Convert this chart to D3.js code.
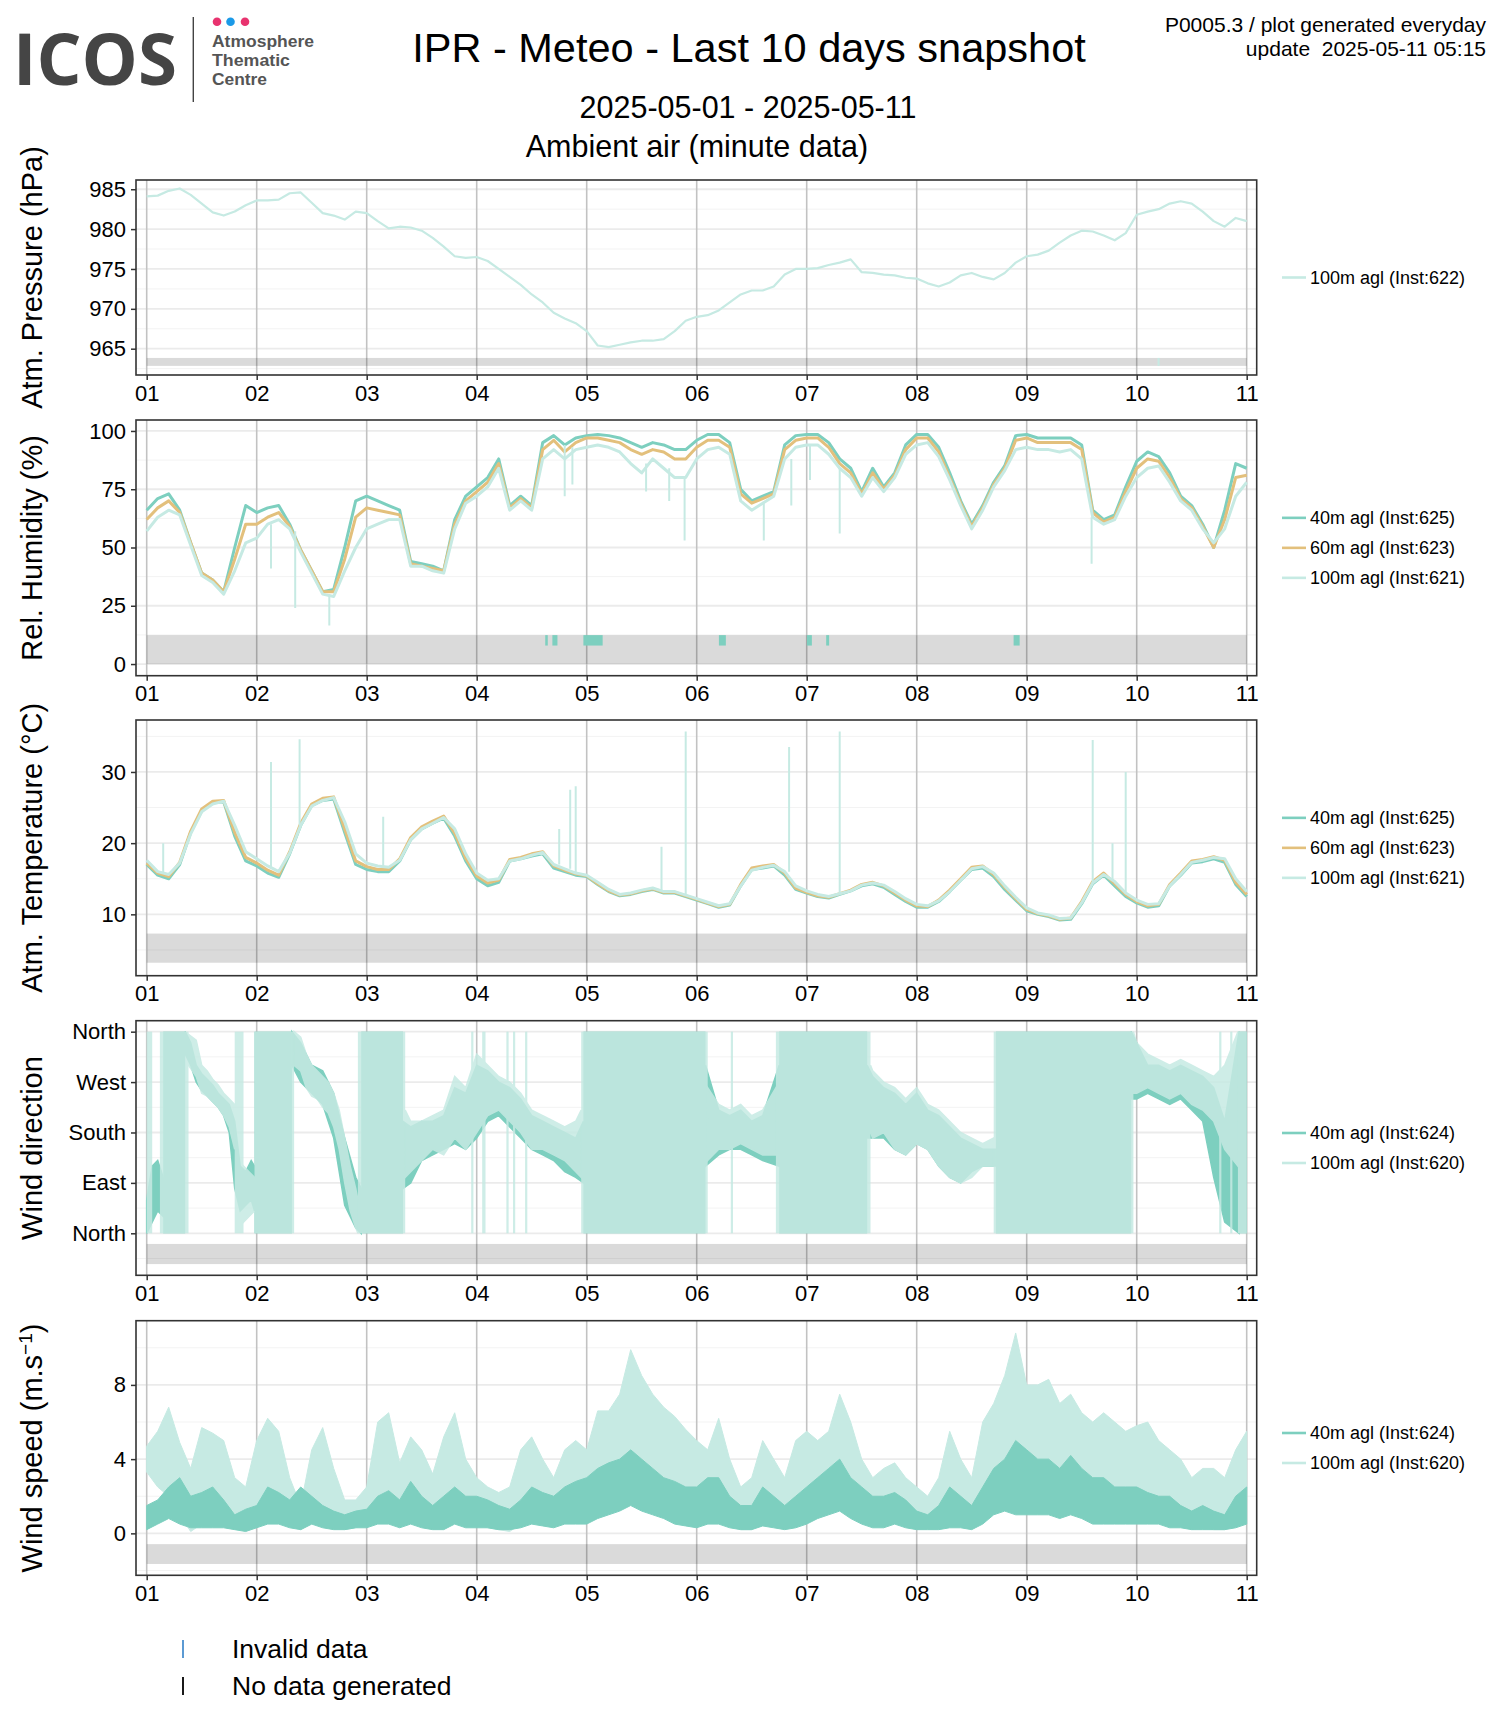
<!DOCTYPE html>
<html>
<head>
<meta charset="utf-8">
<script src="https://cdn.jsdelivr.net/npm/d3@7"></script>
<style>
  body { margin: 0; background: #fff; }
  text { font-family: "Liberation Sans", Arial, sans-serif; }
</style>
</head>
<body>
<div id="chart"></div>
<script>
var days = d3.range(0, 101).map(function(i) { return 1 + i / 10; });

var pressure100 = [984.1,984.2,984.8,985.1,984.3,983.2,982.1,981.7,982.2,983.0,
  983.6,983.6,983.7,984.5,984.6,983.3,982.0,981.7,981.2,982.2,
  982.0,981.0,980.1,980.3,980.2,979.8,978.9,977.8,976.6,976.4,
  976.5,976.0,975.0,974.0,973.0,971.8,970.8,969.5,968.8,968.2,
  967.2,965.4,965.2,965.5,965.8,966.0,966.0,966.2,967.2,968.5,
  969.0,969.2,969.8,970.8,971.8,972.3,972.3,972.8,974.3,975.0,
  975.0,975.1,975.5,975.8,976.2,974.6,974.5,974.3,974.2,973.9,
  973.8,973.2,972.8,973.3,974.2,974.5,974.0,973.7,974.5,975.8,
  976.6,976.8,977.3,978.3,979.2,979.8,979.7,979.2,978.6,979.5,
  981.8,982.2,982.5,983.2,983.5,983.2,982.2,981.0,980.3,981.4,
  981.0];

var rh40 = [66,71,73,66,52,39,36,31,50,68,
  65,67,68,60,49,40,31,32,50,70,
  72,70,68,66,44,43,42,40,62,72,
  76,80,88,68,72,68,95,98,94,97,
  98,98.5,98,97,95,93,95,94,92,92,
  96,98.5,98.5,95,75,70,72,74,94,98,
  98.5,98.5,95,88,84,74,84,76,82,94,
  98.5,98.5,93,82,70,60,68,78,85,98,
  98.5,97,97,97,97,94,66,62,64,76,
  87,91,89,82,72,68,60,50,66,86,
  84];
var rh60 = [62,67,70,65,52,39,36,31,45,60,
  60,63,65,59,49,40,31,31,45,63,
  67,66,65,64,43,42,41,40,60,70,
  74,78,86,67,71,67,92,96,91,95,
  97,97,96,95,92,90,92,91,88,88,
  93,96,96,93,73,69,71,73,92,96,
  97,97,93,86,82,73,82,75,81,92,
  97,97,91,80,69,59,67,77,84,96,
  97,95,95,95,95,92,65,61,63,74,
  84,88,87,80,71,67,59,50,62,80,
  81];
var rh100 = [57,63,66,64,51,38,35,30,40,52,
  54,60,62,58,48,39,30,29,40,50,
  58,60,62,62,42,42,40,39,58,69,
  72,76,84,66,70,66,88,92,88,92,
  93,94,93,91,86,82,88,84,80,80,
  88,92,93,90,70,66,69,72,88,93,
  94,94,90,84,80,72,80,74,80,90,
  94,95,89,79,68,58,66,76,83,92,
  93,92,92,91,92,88,63,60,62,72,
  80,84,85,78,70,66,58,52,58,72,
  78];

var temp40 = [17.0,15.5,15.0,17.0,21.5,24.5,25.7,25.8,21.0,17.5,
  16.8,15.8,15.2,18.5,22.5,25.3,26.0,26.2,21.5,17.0,
  16.3,16.0,16.0,17.5,20.5,22.0,22.8,23.5,21.0,17.5,
  15.0,14.0,14.5,17.5,17.8,18.2,18.5,16.5,16.0,15.5,
  15.3,14.2,13.2,12.6,12.8,13.2,13.5,13.0,13.0,12.5,
  12.0,11.5,11.0,11.3,14.0,16.3,16.5,16.8,15.5,13.5,
  13.0,12.5,12.3,12.8,13.3,14.0,14.3,13.8,12.8,11.8,
  11.0,11.0,11.8,13.2,14.8,16.3,16.5,15.3,13.5,12.0,
  10.5,10.0,9.7,9.2,9.3,11.5,14.3,15.5,14.0,12.5,
  11.6,11.0,11.2,14.0,15.5,17.2,17.4,17.8,17.3,14.2,
  12.5];
var temp60 = [17.2,15.8,15.3,17.3,21.7,24.8,25.9,26.0,21.5,18.0,
  17.2,16.2,15.5,18.8,22.8,25.5,26.3,26.5,22.0,17.5,
  16.7,16.3,16.3,17.8,20.8,22.3,23.1,23.8,21.4,17.9,
  15.4,14.4,14.8,17.7,18.0,18.5,18.8,16.8,16.2,15.7,
  15.4,14.3,13.3,12.7,12.9,13.3,13.6,13.1,13.1,12.6,
  12.1,11.6,11.1,11.4,14.2,16.5,16.8,17.0,15.8,13.7,
  13.1,12.6,12.4,12.9,13.4,14.2,14.5,14.0,13.0,12.0,
  11.2,11.1,12.0,13.4,15.0,16.6,16.8,15.6,13.8,12.2,
  10.7,10.1,9.8,9.3,9.5,11.8,14.6,15.8,14.3,12.8,
  11.8,11.2,11.4,14.2,15.8,17.5,17.7,18.1,17.6,14.5,
  12.8];
var temp100 = [17.6,16.0,15.6,17.2,21.3,24.4,25.5,25.9,22.5,18.8,
  17.8,16.8,16.0,18.6,22.5,25.2,26.0,26.4,23.0,18.5,
  17.2,16.8,16.6,17.6,20.5,22.0,22.8,23.6,22.0,18.5,
  15.8,14.8,15.0,17.5,17.8,18.3,18.7,17.0,16.4,15.8,
  15.5,14.5,13.5,12.8,13.0,13.4,13.7,13.2,13.2,12.7,
  12.2,11.7,11.2,11.5,14.0,16.2,16.6,16.9,16.0,14.0,
  13.3,12.8,12.5,12.9,13.3,14.1,14.4,14.1,13.2,12.2,
  11.4,11.2,11.9,13.2,14.8,16.4,16.7,15.8,14.0,12.4,
  10.9,10.2,9.9,9.4,9.5,11.6,14.4,15.6,14.6,13.0,
  12.0,11.4,11.5,14.0,15.6,17.3,17.6,18.0,17.8,15.0,
  13.2];

// wind direction, 40m: periods where the trace wraps North/North (day start, end)
var wd40FillStart = [1.15, 1.98, 2.95, 4.97, 6.75, 8.72, 10.93];
var wd40FillEnd   = [1.35, 2.32, 3.33, 6.08, 7.55, 9.95, 11.0];
// trace between them: day, low and high edge (degrees); null breaks the trace
var wd40Day = [1.0,1.05,1.1,1.15, null,
  1.35,1.4,1.45,1.5,1.55,1.6,1.65,1.7,1.75,1.8,1.85,1.9,1.95,1.98, null,
  2.32,2.4,2.5,2.6,2.7,2.8,2.9,2.95, null,
  3.33,3.4,3.5,3.6,3.7,3.8,3.9,4.0,4.1,4.2,4.3,4.4,4.5,4.6,4.7,4.8,4.9,4.97, null,
  6.08,6.2,6.3,6.4,6.5,6.6,6.75, null,
  7.55,7.6,7.7,7.8,7.9,8.0,8.1,8.2,8.3,8.4,8.5,8.6,8.72, null,
  9.95,10.0,10.1,10.2,10.3,10.4,10.5,10.6,10.7,10.8,10.93];
var wd40Lo = [0,20,40,30, null,
  320,300,270,255,245,235,225,210,180,80,40,50,60,40, null,
  300,270,250,230,170,50,10,0, null,
  80,90,130,140,150,160,150,170,200,210,190,170,150,140,130,110,100,90, null,
  120,140,150,150,140,130,120, null,
  170,170,170,150,140,160,150,120,100,90,110,120,120, null,
  240,240,250,240,230,240,220,200,100,20,0];
var wd40Hi = [60,120,130,100, null,
  360,340,300,285,275,265,250,240,230,200,120,110,130,120, null,
  360,340,300,290,250,170,100,80, null,
  200,190,200,200,210,260,250,300,290,270,260,240,210,200,190,180,170,200, null,
  300,220,210,220,200,210,300, null,
  300,280,260,250,230,250,220,210,190,170,160,150,150, null,
  360,340,300,300,290,300,290,280,260,200,360];

// wind direction, 100m
var wd100FillStart = [1.0, 1.12, 1.80, 1.98, 2.92, 3.95, 4.05, 4.27, 4.33, 4.44, 4.95, 6.31, 6.72, 8.70, 10.75, 10.85, 10.92];
var wd100FillEnd   = [1.05, 1.38, 1.88, 2.34, 3.35, 3.97, 4.08, 4.29, 4.35, 4.46, 6.10, 6.33, 7.58, 9.97, 10.77, 10.87, 11.0];
var wd100Day = [1.38,1.45,1.5,1.55,1.6,1.65,1.7,1.75,1.8, null,
  1.88,1.93,1.98, null,
  2.34,2.4,2.45,2.5,2.55,2.6,2.65,2.7,2.75,2.8,2.85,2.9,2.92, null,
  3.35,3.4,3.5,3.6,3.7,3.8,3.9,4.0,4.1,4.2,4.3,4.4,4.5,4.6,4.7,4.8,4.9,4.95, null,
  6.1,6.2,6.3,6.4,6.5,6.6,6.72, null,
  7.58,7.6,7.7,7.8,7.9,8.0,8.1,8.2,8.3,8.4,8.5,8.6,8.7, null,
  9.97,10.0,10.1,10.2,10.3,10.4,10.5,10.6,10.7,10.8,10.92];
var wd100Lo = [300,280,250,245,235,225,210,190,150, null,
  20,30,40, null,
  300,290,260,245,240,225,215,190,150,90,40,10,0, null,
  100,110,130,150,140,170,150,180,210,220,200,180,150,150,140,130,110,100, null,
  130,150,150,160,150,140,140, null,
  180,170,180,150,140,160,150,120,100,90,100,120,120, null,
  250,250,260,250,240,250,230,220,200,150,120];
var wd100Hi = [355,345,300,290,275,265,250,240,230, null,
  120,110,100, null,
  360,350,320,300,290,280,270,250,220,170,120,80,60, null,
  220,200,200,210,220,280,260,320,300,280,270,250,220,210,200,190,200,220, null,
  260,230,220,230,210,220,260, null,
  300,290,270,260,240,260,230,220,200,180,170,160,170, null,
  360,340,320,310,300,310,300,290,280,300,360];

// wind speed: low / high envelope of the minute trace (m/s)
var ws40Lo = [0.2,0.5,0.8,0.5,0.3,0.3,0.3,0.3,0.2,0.1,
  0.3,0.5,0.5,0.3,0.2,0.5,0.3,0.2,0.2,0.3,
  0.3,0.5,0.5,0.3,0.5,0.3,0.2,0.2,0.5,0.3,
  0.3,0.3,0.2,0.2,0.3,0.5,0.4,0.3,0.5,0.5,
  0.5,0.8,1.0,1.2,1.5,1.2,1.0,0.8,0.5,0.4,
  0.3,0.5,0.5,0.3,0.2,0.2,0.4,0.3,0.2,0.3,
  0.5,0.8,1.0,1.2,0.8,0.5,0.3,0.3,0.5,0.3,
  0.2,0.2,0.2,0.3,0.3,0.2,0.5,1.0,1.2,1.0,
  1.0,1.0,1.0,0.8,1.0,0.8,0.5,0.5,0.5,0.5,
  0.5,0.5,0.5,0.3,0.3,0.2,0.2,0.2,0.2,0.3,
  0.5];
var ws40Hi = [1.5,1.8,2.5,3.0,2.0,2.2,2.5,1.8,1.0,1.3,
  1.5,2.5,2.2,1.8,2.5,2.0,1.5,1.2,1.0,1.2,
  1.3,2.0,2.3,1.8,2.8,2.0,1.5,2.0,2.5,2.0,
  2.0,1.8,1.5,1.3,1.8,2.5,2.2,2.0,2.5,2.8,
  3.0,3.5,3.8,4.0,4.5,4.0,3.5,3.0,2.8,2.5,
  2.5,3.0,3.0,2.0,1.5,1.5,2.5,2.0,1.5,2.0,
  2.5,3.0,3.5,4.0,3.0,2.5,2.0,2.0,2.2,1.8,
  1.2,1.0,1.5,2.5,2.0,1.5,2.5,3.5,4.0,5.0,
  4.5,4.0,4.0,3.5,4.2,3.5,3.0,3.0,2.5,2.5,
  2.5,2.2,2.0,2.0,1.5,1.2,1.5,1.2,1.0,2.0,
  2.5];
var ws100Lo = [3.3,2.5,2.0,1.0,0.1,0.5,1.5,1.0,0.2,0.3,
  1.5,2.5,2.0,1.0,0.2,0.5,1.5,0.5,0.2,0.3,
  0.5,1.0,1.5,0.5,1.0,0.8,0.5,0.8,1.0,0.5,
  0.5,0.3,0.2,0.1,0.5,1.0,1.0,0.8,1.0,1.2,
  1.5,1.8,2.0,2.2,2.5,2.2,1.8,1.5,1.2,1.0,
  0.8,0.5,1.0,0.5,0.2,0.2,1.0,0.8,0.5,1.0,
  1.5,1.5,2.0,2.5,2.0,1.0,0.5,0.8,1.0,0.5,
  0.2,0.3,0.5,1.5,1.0,0.5,2.5,3.0,3.5,4.0,
  3.5,3.5,3.0,3.0,3.2,3.0,2.5,2.5,2.0,2.0,
  2.0,2.0,1.5,1.0,0.5,0.2,0.3,0.2,0.2,0.5,
  2.0];
var ws100Hi = [4.7,5.5,6.8,4.9,3.5,5.7,5.4,5.0,3.0,2.5,
  5.0,6.2,5.5,3.0,1.5,4.5,5.7,3.5,1.8,1.8,
  2.5,6.0,6.5,3.8,5.2,4.5,3.2,5.2,6.5,4.0,
  3.0,2.5,2.2,2.5,4.5,5.2,4.0,3.0,4.5,5.0,
  4.5,6.6,6.6,7.5,9.9,8.5,7.5,6.8,6.3,5.6,
  5.0,4.5,6.2,4.0,2.5,3.0,5.0,4.0,3.0,5.0,
  5.5,5.0,5.5,7.5,6.0,4.0,3.0,3.5,3.8,3.0,
  2.5,2.0,3.0,5.5,4.0,3.0,6.0,7.0,8.5,10.8,
  8.0,8.0,8.3,7.0,7.5,6.5,6.0,6.5,6.0,5.5,
  5.8,6.0,5.0,4.5,4.0,3.0,3.5,3.5,3.0,4.5,
  5.5];

// isolated spikes of the minute traces: day, from, to
var rhSpikeDay = [2.13,2.35,2.66,4.80,4.87,5.54,5.75,5.89,6.61,6.86,7.03,7.30,9.59];
var rhSpikeFrom = [60,57,30,94,93,86,84,80,69,88,94,84,63];
var rhSpikeTo = [41,24,16.5,72,77,74,70,53,53,68,79,56,43];
var tempSpikeDay = [1.15,2.13,2.39,3.15,4.75,4.85,4.90,5.68,5.90,6.84,7.30,9.60,9.78,9.90];
var tempSpikeFrom = [15.8,16.4,22.5,16.8,17.0,16.4,15.8,13.2,12.7,16.0,12.9,14.4,14.8,13.0];
var tempSpikeTo = [20,31.4,34.6,23.7,22,27.5,28,19.5,35.7,33.5,35.7,34.5,20,30];

// invalid data flags (day start, day end)
var rhInvalidStart = [4.623,4.688,4.970,6.202,7.002,7.177,8.881];
var rhInvalidEnd = [4.646,4.734,5.145,6.265,7.047,7.204,8.936];
var pressureInvalidStart = [10.19];
var pressureInvalidEnd = [10.2];

// axis ticks
var pressureTicks = [965, 970, 975, 980, 985];
var rhTicks = [0, 25, 50, 75, 100];
var tempTicks = [10, 20, 30];
var wdTicks = [0, 90, 180, 270, 360];
var wdTickLabels = ['North', 'East', 'South', 'West', 'North'];
var wsTicks = [0, 4, 8];

var c40 = '#7dcfbf', c60 = '#e3c07c', c100 = '#c6eae3';

function toDate(d) { return new Date(Date.UTC(2025, 4, 1) + (d - 1) * 864e5); }

var svg = d3.select('#chart').append('svg')
    .attr('width', 1500)
    .attr('height', 1725);

var left = 136, right = 1256.7, pw = right - left;
var x = d3.scaleUtc().domain([toDate(1), toDate(11)]).range([10.7, 1110.7]);

// ---------- header ----------
svg.append('text').attr('x', 13).attr('y', 85)
  .attr('textLength', 164).attr('lengthAdjust', 'spacingAndGlyphs')
  .style('font-family', '"Open Sans", sans-serif').style('font-weight', 700)
  .style('font-size', '72px').style('fill', '#454545').text('ICOS');
svg.append('line').attr('x1', 193.3).attr('x2', 193.3).attr('y1', 17).attr('y2', 102)
  .style('stroke', '#444').style('stroke-width', 1.4);
svg.selectAll('.dot').data([['#e8336f', 217], ['#1b9ae8', 230.5], ['#e8336f', 245]])
  .enter().append('circle')
  .attr('cx', function(d) { return d[1]; }).attr('cy', 21.7).attr('r', 4.3)
  .style('fill', function(d) { return d[0]; });
[['Atmosphere', 102], ['Thematic', 78], ['Centre', 55]].forEach(function(t, i) {
  svg.append('text').attr('x', 212).attr('y', 47 + i * 19)
    .attr('textLength', t[1]).attr('lengthAdjust', 'spacingAndGlyphs')
    .style('font-weight', 700).style('font-size', '16px').style('fill', '#555').text(t[0]);
});

svg.append('text').attr('x', 749).attr('y', 62).attr('text-anchor', 'middle')
  .style('font-size', '41.5px').text('IPR - Meteo - Last 10 days snapshot');
svg.append('text').attr('x', 748).attr('y', 118).attr('text-anchor', 'middle')
  .style('font-size', '30.5px').text('2025-05-01 - 2025-05-11');
svg.append('text').attr('x', 697).attr('y', 157).attr('text-anchor', 'middle')
  .style('font-size', '30.5px').text('Ambient air (minute data)');
svg.append('text').attr('x', 1486).attr('y', 31.5).attr('text-anchor', 'end')
  .style('font-size', '21px').text('P0005.3 / plot generated everyday');
svg.append('text').attr('x', 1486).attr('y', 55.5).attr('text-anchor', 'end')
  .style('font-size', '21px').style('white-space', 'pre').text('update  2025-05-11 05:15');

// ---------- panels ----------
function drawPanel(p, idx) {
  var h = p.bottom - p.top;
  var g = svg.append('g').attr('transform', 'translate(' + left + ',' + p.top + ')');
  var y = d3.scaleLinear().domain(p.domain).range([h, 0]);

  // grid
  g.selectAll('.minor').data(p.minor).enter().append('line')
    .attr('x1', 0).attr('x2', pw)
    .attr('y1', function(d) { return y(d); }).attr('y2', function(d) { return y(d); })
    .style('stroke', '#f3f3f3').style('stroke-width', 1);
  g.selectAll('.major').data(p.ticks).enter().append('line')
    .attr('x1', 0).attr('x2', pw)
    .attr('y1', function(d) { return y(d); }).attr('y2', function(d) { return y(d); })
    .style('stroke', '#ebebeb').style('stroke-width', 1.8);
  g.selectAll('.vgrid').data(x.ticks(d3.utcDay.every(1))).enter().append('line')
    .attr('x1', function(d) { return x(d); }).attr('x2', function(d) { return x(d); })
    .attr('y1', 0).attr('y2', h)
    .style('stroke', '#c2c2c2').style('stroke-width', 1.6);

  // no-data band
  g.append('rect').attr('x', x(toDate(1))).attr('width', x(toDate(11)) - x(toDate(1)))
    .attr('y', y(p.band[1])).attr('height', y(p.band[0]) - y(p.band[1]))
    .style('fill', '#000').style('fill-opacity', 0.145);

  var clipId = 'clip' + idx;
  g.append('clipPath').attr('id', clipId).append('rect')
    .attr('width', pw).attr('height', h);
  var data = g.append('g').attr('clip-path', 'url(#' + clipId + ')');

  p.series.forEach(function(s) {
    var sg = data.append('g').style('opacity', s.opacity || 1);
    s.node = sg;
    if (s.traceDay) {
      // wrap-around periods: the minute trace fills North..North
      sg.selectAll(null).data(s.fillStart).enter().append('rect')
        .attr('x', function(d) { return x(toDate(d)); })
        .attr('width', function(d, i) { return Math.max(1.5, x(toDate(s.fillEnd[i])) - x(toDate(d))); })
        .attr('y', y(360)).attr('height', y(0) - y(360))
        .style('fill', s.color);
      var trace = d3.area()
        .defined(function(d) { return d !== null; })
        .x(function(d) { return x(toDate(d)); })
        .y0(function(d, i) { return y(s.traceLo[i]); })
        .y1(function(d, i) { return y(s.traceHi[i]); });
      sg.append('path').attr('d', trace(s.traceDay))
        .style('fill', s.color).style('stroke', s.color).style('stroke-width', 1.5);
    } else if (s.lo) {
      var area = d3.area()
        .x(function(d, i) { return x(toDate(days[i])); })
        .y0(function(d, i) { return y(s.lo[i]); })
        .y1(function(d, i) { return y(s.hi[i]); });
      sg.append('path').attr('d', area(s.lo))
        .style('fill', s.color).style('stroke', s.color).style('stroke-width', 1);
    } else {
      var line = d3.line()
        .x(function(d, i) { return x(toDate(days[i])); })
        .y(function(d) { return y(d); });
      sg.append('path').attr('d', line(s.values))
        .style('fill', 'none').style('stroke', s.color)
        .style('stroke-width', p.lineWidth).style('stroke-linejoin', 'round');
    }
    if (s.spikeDay) {
      sg.selectAll(null).data(s.spikeDay).enter().append('line')
        .attr('x1', function(d) { return x(toDate(d)); })
        .attr('x2', function(d) { return x(toDate(d)); })
        .attr('y1', function(d, i) { return y(s.spikeFrom[i]); })
        .attr('y2', function(d, i) { return y(s.spikeTo[i]); })
        .style('stroke', s.color).style('stroke-width', 2);
    }
  });
  if (p.raiseFirst) p.series[0].node.raise();

  if (p.invalidStart) {
    g.selectAll('.inv').data(p.invalidStart).enter().append('rect')
      .attr('x', function(d) { return x(toDate(d)); })
      .attr('width', function(d, i) { return Math.max(2, x(toDate(p.invalidEnd[i])) - x(toDate(d))); })
      .attr('y', y(p.band[1]))
      .attr('height', (y(p.band[0]) - y(p.band[1])) * p.invalidFrac)
      .style('fill', p.invalidColor);
  }

  // frame
  g.append('rect').attr('width', pw).attr('height', h)
    .style('fill', 'none').style('stroke', '#333').style('stroke-width', 1.6);

  // axes
  var ya = g.append('g').call(d3.axisLeft(y).tickValues(p.ticks).tickSize(5).tickPadding(5)
    .tickFormat(function(d, i) { return p.tickLabels ? p.tickLabels[i] : d; }));
  var xa = g.append('g').attr('transform', 'translate(0,' + h + ')')
    .call(d3.axisBottom(x).ticks(d3.utcDay.every(1)).tickFormat(d3.utcFormat('%d'))
      .tickSize(5).tickPadding(5));
  [ya, xa].forEach(function(a) {
    a.select('.domain').remove();
    a.selectAll('line').style('stroke', '#333').style('stroke-width', 1.5);
    a.selectAll('text').style('font-size', '22px').style('fill', '#000')
      .style('font-family', '"Liberation Sans", Arial, sans-serif');
  });

  // y title
  var t = g.append('text')
    .attr('transform', 'translate(' + (42 - left) + ',' + (h / 2) + ') rotate(-90)')
    .attr('text-anchor', 'middle').style('font-size', '29px');
  p.title.forEach(function(part) {
    var ts = t.append('tspan').text(part[0]);
    if (part[1]) ts.attr('baseline-shift', 'super').style('font-size', '19px');
  });

  // legend
  var n = p.series.length;
  var legend = g.selectAll('.legend').data(p.series).enter().append('g')
    .attr('transform', function(d, i) { return 'translate(0,' + (h / 2 + (i - (n - 1) / 2) * 30) + ')'; });
  legend.append('line').attr('x1', 1282 - left).attr('x2', 1306 - left)
    .style('stroke', function(d) { return d.color; }).style('stroke-width', 2.6);
  legend.append('text').attr('x', 1310 - left).attr('dy', '.35em')
    .style('font-size', '18px').text(function(d) { return d.label; });
}

var panels = [
  { top: 180, bottom: 375, domain: [961.7, 986.16], ticks: pressureTicks,
    minor: [962.5, 967.5, 972.5, 977.5, 982.5], band: [962.84, 963.84], lineWidth: 2.2,
    title: [['Atm. Pressure (hPa)']],
    invalidStart: pressureInvalidStart, invalidEnd: pressureInvalidEnd, invalidColor: c100, invalidFrac: 1,
    series: [{ label: '100m agl (Inst:622)', color: c100, values: pressure100 }] },
  { top: 420, bottom: 675.7, domain: [-5, 104.7], ticks: rhTicks,
    minor: [12.5, 37.5, 62.5, 87.5], band: [0, 12.4], lineWidth: 3,
    title: [['Rel. Humidity (%)']],
    invalidStart: rhInvalidStart, invalidEnd: rhInvalidEnd, invalidColor: c40, invalidFrac: 0.36,
    series: [
      { label: '40m agl (Inst:625)', color: c40, values: rh40 },
      { label: '60m agl (Inst:623)', color: c60, values: rh60 },
      { label: '100m agl (Inst:621)', color: c100, values: rh100,
        spikeDay: rhSpikeDay, spikeFrom: rhSpikeFrom, spikeTo: rhSpikeTo }] },
  { top: 720, bottom: 975.7, domain: [1.38, 37.3], ticks: tempTicks,
    minor: [5, 15, 25, 35], band: [3.2, 7.3], lineWidth: 3,
    title: [['Atm. Temperature (°C)']],
    series: [
      { label: '40m agl (Inst:625)', color: c40, values: temp40 },
      { label: '60m agl (Inst:623)', color: c60, values: temp60 },
      { label: '100m agl (Inst:621)', color: c100, values: temp100,
        spikeDay: tempSpikeDay, spikeFrom: tempSpikeFrom, spikeTo: tempSpikeTo }] },
  { top: 1020.7, bottom: 1275.3, domain: [-75, 379.6], ticks: wdTicks, tickLabels: wdTickLabels,
    minor: [-45, 45, 135, 225, 315], band: [-55, -19],
    title: [['Wind direction']],
    series: [
      { label: '40m agl (Inst:624)', color: c40, fillStart: wd40FillStart, fillEnd: wd40FillEnd,
        traceDay: wd40Day, traceLo: wd40Lo, traceHi: wd40Hi },
      { label: '100m agl (Inst:620)', color: c100, fillStart: wd100FillStart, fillEnd: wd100FillEnd,
        traceDay: wd100Day, traceLo: wd100Lo, traceHi: wd100Hi, opacity: 0.85 }] },
  { top: 1320.7, bottom: 1575.3, domain: [-2.26, 11.46], ticks: wsTicks,
    minor: [-2, 2, 6, 10], band: [-1.65, -0.58], raiseFirst: true,
    title: [['Wind speed (m.s'], ['\u22121', true], [')']],
    series: [
      { label: '40m agl (Inst:624)', color: c40, lo: ws40Lo, hi: ws40Hi },
      { label: '100m agl (Inst:620)', color: c100, lo: ws100Lo, hi: ws100Hi }] }
];

panels.forEach(drawPanel);

// ---------- bottom legend ----------
var keys = [['#4a8fcf', 'Invalid data'], ['#000', 'No data generated']];
var key = svg.selectAll('.key').data(keys).enter().append('g')
  .attr('transform', function(d, i) { return 'translate(0,' + (1658 + i * 37) + ')'; });
key.append('line').attr('x1', 183).attr('x2', 183).attr('y1', -18).attr('y2', 0)
  .style('stroke', function(d) { return d[0]; }).style('stroke-width', 1.8);
key.append('text').attr('x', 232).style('font-size', '26.5px').text(function(d) { return d[1]; });
</script>
</body>
</html>
